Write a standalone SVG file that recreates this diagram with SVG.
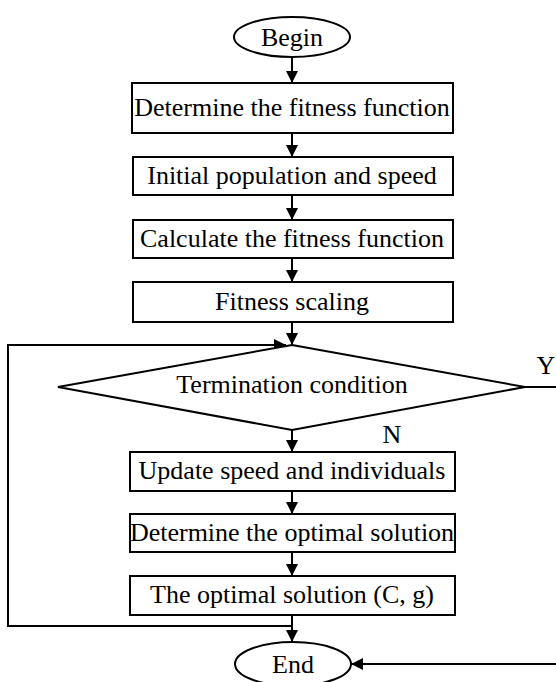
<svg xmlns="http://www.w3.org/2000/svg" width="556" height="682" viewBox="0 0 556 682">
<defs>
<marker id="ah" markerWidth="12" markerHeight="12" viewBox="0 0 12 12" refX="12" refY="6" orient="auto" markerUnits="userSpaceOnUse">
<path d="M0,0 L12,6 L0,12 Z" fill="#000"/>
</marker>
</defs>
<style>
.s{fill:#fff;stroke:#000;stroke-width:2}
.t{font-family:'Liberation Serif','Times New Roman','DejaVu Serif',serif;font-size:26px;fill:#000;text-anchor:middle}
.c{fill:none;stroke:#000;stroke-width:2}
</style>
<rect width="556" height="682" fill="#fff"/>
<g id="connectors">
<line class="c" x1="292" y1="57" x2="292" y2="83" marker-end="url(#ah)"/>
<line class="c" x1="292" y1="133" x2="292" y2="157" marker-end="url(#ah)"/>
<line class="c" x1="292" y1="195" x2="292" y2="220" marker-end="url(#ah)"/>
<line class="c" x1="292" y1="258" x2="292" y2="282" marker-end="url(#ah)"/>
<line class="c" x1="292" y1="322" x2="292" y2="345" marker-end="url(#ah)"/>
<polyline class="c" points="292,626 8,626 8,345 286,345" marker-end="url(#ah)"/>
<line class="c" x1="292" y1="430" x2="292" y2="452" marker-end="url(#ah)"/>
<line class="c" x1="292" y1="491" x2="292" y2="514" marker-end="url(#ah)"/>
<line class="c" x1="292" y1="552" x2="292" y2="576" marker-end="url(#ah)"/>
<line class="c" x1="292" y1="615" x2="292" y2="642" marker-end="url(#ah)"/>
<line class="c" x1="525" y1="387" x2="556" y2="387"/>
<line class="c" x1="556" y1="664" x2="351" y2="664" marker-end="url(#ah)"/>
<text class="t" x="546" y="374">Y</text>
<text class="t" x="392" y="443">N</text>
</g>
<g id="begin">
<ellipse class="s" cx="292" cy="37" rx="58" ry="20"/>
<text class="t" x="292" y="46">Begin</text>
</g>
<g id="n1">
<rect class="s" x="132" y="83" width="321" height="50"/>
<text class="t" x="292" y="116">Determine the fitness function</text>
</g>
<g id="n2">
<rect class="s" x="133" y="157" width="320" height="38"/>
<text class="t" x="292" y="184">Initial population and speed</text>
</g>
<g id="n3">
<rect class="s" x="133" y="220" width="320" height="38"/>
<text class="t" x="292" y="247">Calculate the fitness function</text>
</g>
<g id="n4">
<rect class="s" x="133" y="282" width="320" height="40"/>
<text class="t" x="292" y="310">Fitness scaling</text>
</g>
<g id="decision">
<polygon class="s" points="292,345 525,387 292,430 58,387"/>
<text class="t" x="292" y="393">Termination condition</text>
</g>
<g id="n5">
<rect class="s" x="130" y="452" width="325" height="39"/>
<text class="t" x="292" y="479">Update speed and individuals</text>
</g>
<g id="n6">
<rect class="s" x="130" y="514" width="325" height="38"/>
<text class="t" x="292" y="541">Determine the optimal solution</text>
</g>
<g id="n7">
<rect class="s" x="130" y="576" width="325" height="39"/>
<text class="t" x="292" y="603">The optimal solution (C, g)</text>
</g>
<g id="end">
<ellipse class="s" cx="293" cy="664" rx="58" ry="22"/>
<text class="t" x="293" y="673">End</text>
</g>
</svg>
